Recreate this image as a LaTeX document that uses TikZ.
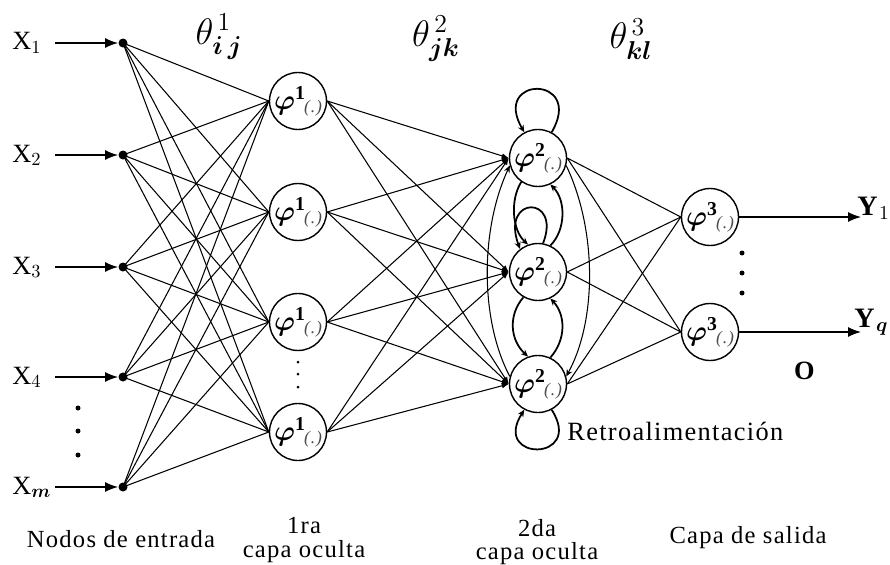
\documentclass[tikz,border=0pt]{standalone}
\usepackage{fix-cm}
\usepackage{amsmath}
\usepackage{fontspec}
\setmainfont[LetterSpace=5]{Liberation Serif}
\usetikzlibrary{arrows.meta}
\newcommand{\actfn}[1]{$\boldsymbol{\varphi}^{\mathbf{#1}}$\kern-1pt\raisebox{-0.2ex}{\fontsize{10}{10}\selectfont\color{black!70}\itshape(.)}}
\begin{document}
\begin{tikzpicture}[x=0.2mm, y=-0.2mm,
  every node/.style={font=\fontsize{14}{16}\selectfont},
  neuron/.style={circle, draw, line width=0.8pt, minimum size=11.4mm, inner sep=0pt, font=\fontsize{16}{16}\selectfont},
  inputdot/.style={circle, fill, minimum size=1.8mm, inner sep=0pt},
  vdot/.style={circle, fill, minimum size=1mm, inner sep=0pt},
  link/.style={line width=0.6pt},
  feed/.style={line width=0.9pt, -{Latex[length=2.6mm, width=2mm]}},
  recur/.style={line width=1pt, -{Stealth[length=4pt, width=3.5pt]}},
  weight/.style={font=\fontsize{21}{21}\selectfont},
  caption/.style={align=center, font=\fontsize{14}{13.5}\selectfont}]
  \useasboundingbox (0,0) rectangle (890,565);

  \foreach \i/\y/\s in {1/43/1, 2/155/2, 3/267/3, 4/377/4, m/487/\boldsymbol{m}} {
    \node[inputdot] (in\i) at (123,\y) {};
    \coordinate (src\i) at (55,\y);
    \node[anchor=base west, inner sep=0pt, font=\fontsize{15}{15}\selectfont] (x\i) at (12,\y+7) {X$_{\s}$};
    \draw[feed] (src\i) -- (in\i);
  }
  \foreach \n/\y in {1/408, 2/431, 3/455}
    \node[vdot] (vin\n) at (78,\y) {};

  \foreach \j/\y in {1/101, 2/212, 3/322, 4/432}
    \node[neuron] (h\j) at (298,\y) {\actfn{1}};
  \foreach \n/\y in {1/362, 2/374, 3/387}
    \node[vdot, minimum size=0.6mm] (vh\n) at (298,\y) {};

  \foreach \k/\y in {1/158, 2/272, 3/384}
    \node[neuron] (g\k) at (538,\y) {\actfn{2}};

  \foreach \l/\y in {1/217, 2/332} {
    \node[neuron] (o\l) at (710,\y) {\actfn{3}};
    \coordinate (tip\l) at (861,\y);
    \draw[feed, line width=0.7pt] (o\l.east) -- (tip\l);
  }
  \foreach \n/\y in {1/253, 2/273, 3/293}
    \node[vdot] (vo\n) at (742,\y) {};

  \foreach \i in {1,2,3,4,m}
    \foreach \j in {1,...,4}
      \draw[link] (in\i.center) -- (h\j.west);
  \foreach \j in {1,...,4}
    \foreach \k in {1,2,3}
      \draw[link, -{Latex[length=4pt, width=3pt]}] (h\j.east) -- (g\k.west);
  \foreach \k in {1,2,3}
    \foreach \l in {1,2}
      \draw[link] (g\k.east) -- (o\l.west);

  \draw[recur] (g1.62) .. controls (585,75) and (491,75) .. (g1.118);
  \draw[recur] (g3.298) .. controls (585,462) and (491,462) .. (g3.242);
  \draw[recur] (g1.235) .. controls (510,200) and (512,230) .. (g2.110);
  \draw[recur] (g2.80) .. controls (562,195) and (500,195) .. (g2.128);
  \draw[recur] (g2.65) .. controls (566,230) and (566,200) .. (g1.295);
  \draw[recur] (g2.240) .. controls (508,315) and (510,340) .. (g3.110);
  \draw[recur] (g3.65) .. controls (566,340) and (566,315) .. (g2.295);
  \draw[recur, line width=0.6pt] (g3.165) .. controls (480,320) and (480,230) .. (g1.195);
  \draw[recur, line width=0.6pt] (g1.345) .. controls (597,230) and (597,320) .. (g3.15);

  \node[anchor=base west, inner sep=0pt, font=\fontsize{16}{16}\selectfont] (y1) at (857,215) {\textbf{Y}$_{1}$};
  \node[anchor=base west, inner sep=0pt, font=\fontsize{16}{16}\selectfont] (y2) at (854,327) {\textbf{Y}$_{\boldsymbol{q}}$};
  \node[font=\fontsize{15}{15}\selectfont] (olbl) at (805,371) {\textbf{O}};

  \node[weight] (w1) at (219,37) {$\theta^{\,1}_{\boldsymbol{i\,j}}$};
  \node[weight] (w2) at (436,39) {$\theta^{\,2}_{\boldsymbol{jk}}$};
  \node[weight] (w3) at (631,39) {$\theta^{\,3}_{\boldsymbol{kl}}$};

  \node[anchor=base west, inner sep=0pt, font=\fontsize{15}{15}\selectfont] (fb) at (567,440) {Retroalimentación};

  \node[caption] (c1) at (121,539) {Nodos de entrada};
  \node[caption] (c2) at (304,540) {1ra\\capa oculta};
  \node[caption] (c3) at (537,542) {2da\\capa oculta};
  \node[caption] (c4) at (748,538) {Capa de salida};
\end{tikzpicture}
\end{document}
